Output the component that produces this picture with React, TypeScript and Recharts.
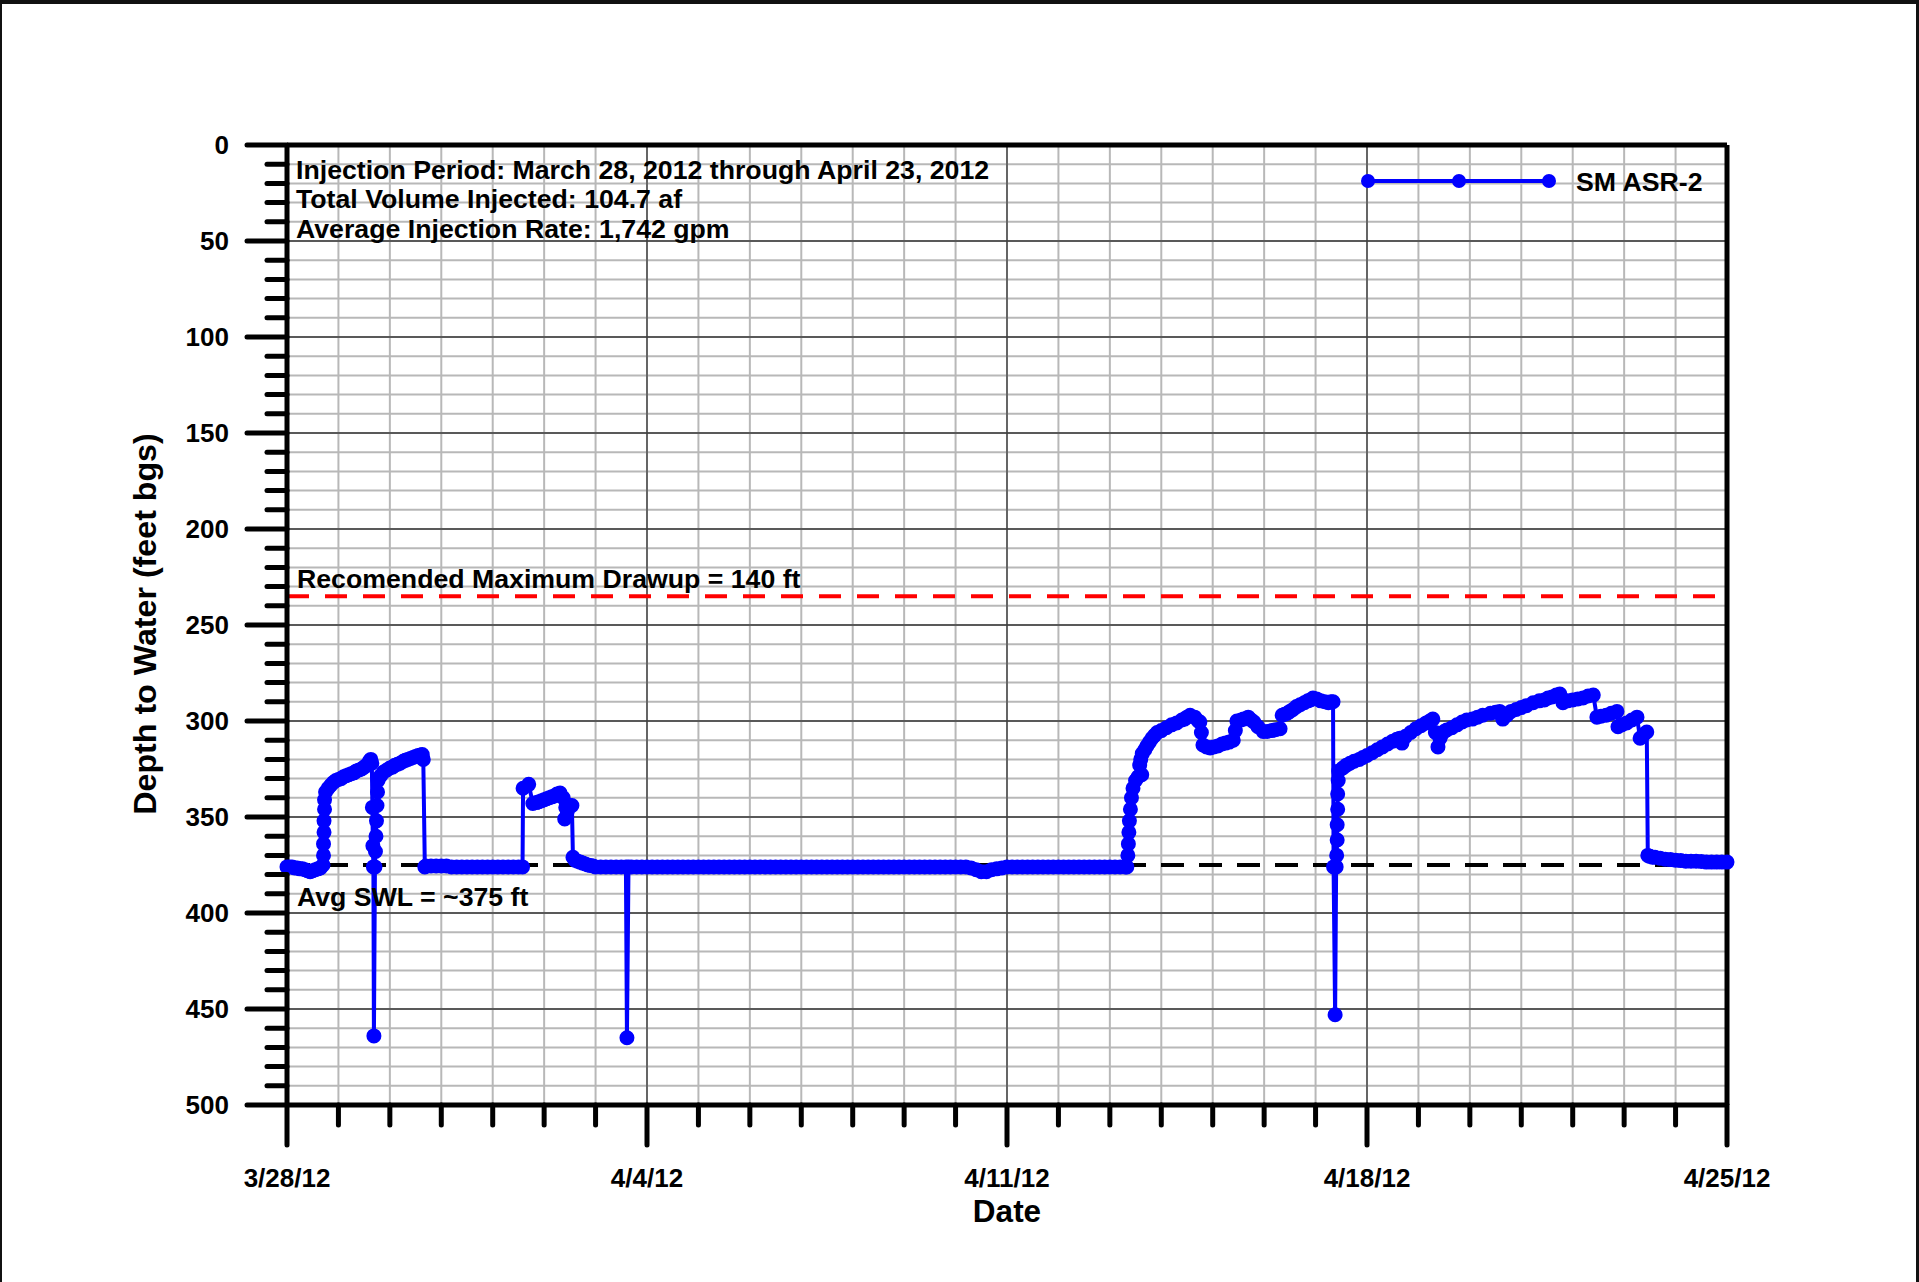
import React from 'react'
import {
    LineChart,
    Line,
    XAxis,
    YAxis,
    CartesianGrid,
    ReferenceLine
} from 'recharts'

// elapsed days since 3/28/12 00:00, depth to water in feet bgs
type Pt = [number, number]

const lateMarch: Pt[] = [
    [0, 376], [0.05, 376], [0.1, 376], [0.15, 376.5], [0.2, 376.5], [0.25, 377], [0.3, 377],
    [0.35, 377.5], [0.4, 378], [0.45, 378.5], [0.5, 378], [0.55, 377.5], [0.6, 377], [0.65, 376.5],
    [0.7, 375], [0.71, 370], [0.71, 364], [0.72, 358], [0.72, 352], [0.73, 346], [0.73, 341],
    [0.75, 337], [0.8, 335], [0.85, 333.5], [0.9, 332], [0.95, 331], [1.0, 330.5], [1.05, 330],
    [1.1, 329], [1.15, 328.5], [1.2, 328], [1.25, 327.5], [1.3, 327], [1.35, 326], [1.4, 325.5],
    [1.45, 325], [1.5, 324], [1.55, 323], [1.6, 321], [1.63, 320], [1.65, 322], [1.66, 345],
    [1.67, 365], [1.68, 376], [1.69, 464], [1.71, 376], [1.72, 368], [1.73, 360], [1.74, 352],
    [1.75, 344], [1.76, 337], [1.77, 331], [1.82, 328.5], [1.88, 326.5], [1.94, 325.5], [2.0, 324.5],
    [2.05, 324], [2.1, 323], [2.15, 322.5], [2.2, 322], [2.26, 321], [2.3, 320.5], [2.35, 320],
    [2.4, 319.5], [2.45, 319], [2.5, 318.5], [2.55, 318], [2.6, 317.7], [2.63, 317.5], [2.65, 320]
]

const earlyApril: Pt[] = [
    [2.68, 376], [2.7, 375.5], [2.8, 375.5], [2.9, 375.5], [3.0, 375.5], [3.1, 375.5], [3.2, 376],
    [3.3, 376], [3.4, 376], [3.5, 376], [3.6, 376], [3.7, 376], [3.8, 376], [3.9, 376], [4.0, 376],
    [4.1, 376], [4.2, 376], [4.3, 376], [4.4, 376], [4.5, 376], [4.58, 376], [4.59, 335], [4.7, 333],
    [4.78, 343], [4.85, 342.5], [4.9, 342], [4.95, 341.5], [5.0, 341], [5.05, 340.5], [5.1, 340],
    [5.15, 339.5], [5.2, 339], [5.25, 338], [5.31, 337.5], [5.37, 340], [5.42, 345], [5.4, 351],
    [5.45, 347], [5.5, 344], [5.54, 344], [5.56, 371], [5.6, 372.5], [5.65, 373], [5.7, 373.5],
    [5.75, 374], [5.8, 374.5], [5.85, 375], [5.9, 375.2], [5.95, 375.5], [6.0, 376], [6.1, 376],
    [6.2, 376], [6.3, 376], [6.4, 376], [6.5, 376], [6.59, 376], [6.61, 465], [6.64, 376]
]

const midApril: Pt[] = [
    [6.7, 376], [6.8, 376], [6.9, 376], [7.0, 376], [7.1, 376], [7.2, 376], [7.3, 376], [7.4, 376],
    [7.5, 376], [7.6, 376], [7.7, 376], [7.8, 376], [7.9, 376], [8.0, 376], [8.1, 376], [8.2, 376],
    [8.3, 376], [8.4, 376], [8.5, 376], [8.6, 376], [8.7, 376], [8.8, 376], [8.9, 376], [9.0, 376],
    [9.1, 376], [9.2, 376], [9.3, 376], [9.4, 376], [9.5, 376], [9.6, 376], [9.7, 376], [9.8, 376],
    [9.9, 376], [10.0, 376], [10.1, 376], [10.2, 376], [10.3, 376], [10.4, 376], [10.5, 376],
    [10.6, 376], [10.7, 376], [10.8, 376], [10.9, 376], [11.0, 376], [11.1, 376], [11.2, 376],
    [11.3, 376], [11.4, 376], [11.5, 376], [11.6, 376], [11.7, 376], [11.8, 376], [11.9, 376],
    [12.0, 376], [12.1, 376], [12.2, 376], [12.3, 376], [12.4, 376], [12.5, 376], [12.6, 376],
    [12.7, 376], [12.8, 376], [12.9, 376], [13.0, 376], [13.1, 376], [13.2, 376], [13.3, 376.5],
    [13.4, 377.5], [13.5, 378.5], [13.6, 378.5], [13.7, 377.5], [13.8, 377], [13.9, 376.5],
    [14.0, 376], [14.1, 376], [14.2, 376], [14.3, 376], [14.4, 376], [14.5, 376], [14.6, 376],
    [14.7, 376], [14.8, 376], [14.9, 376], [15.0, 376], [15.1, 376], [15.2, 376], [15.3, 376],
    [15.4, 376], [15.5, 376], [15.6, 376], [15.7, 376], [15.8, 376], [15.9, 376], [16.0, 376],
    [16.1, 376], [16.2, 376]
]

const injectionWeek3: Pt[] = [
    [16.3, 376], [16.33, 376], [16.35, 370], [16.36, 364], [16.37, 358], [16.38, 352], [16.4, 346],
    [16.42, 340], [16.45, 335], [16.5, 331], [16.55, 329], [16.62, 328], [16.58, 323], [16.6, 320],
    [16.63, 317], [16.68, 315], [16.72, 313], [16.77, 311], [16.82, 309], [16.87, 307.5],
    [16.92, 306], [17.0, 305], [17.1, 303.5], [17.2, 302], [17.3, 301], [17.4, 299.5], [17.45, 299],
    [17.5, 298], [17.56, 297], [17.65, 298], [17.72, 300], [17.75, 300.5], [17.78, 306],
    [17.81, 312.5], [17.88, 313.5], [17.95, 314], [18.02, 313.5], [18.1, 313], [18.18, 312],
    [18.25, 311.5], [18.32, 311], [18.4, 310], [18.44, 305], [18.47, 300], [18.55, 299.5],
    [18.6, 299], [18.69, 298], [18.75, 299.5], [18.8, 300.5], [18.88, 303], [18.98, 305.5],
    [19.06, 305.5], [19.15, 305], [19.22, 304.5], [19.31, 304], [19.35, 297], [19.4, 296.5],
    [19.45, 296], [19.5, 295], [19.56, 294], [19.63, 292.5], [19.7, 291.5], [19.78, 290.5],
    [19.85, 289.5], [19.9, 289], [19.95, 288], [20.02, 288.5], [20.1, 289.5], [20.18, 290],
    [20.25, 290.5], [20.3, 290], [20.34, 290]
]

const injectionWeek4: Pt[] = [
    [20.35, 376], [20.38, 453], [20.4, 376], [20.41, 370], [20.42, 362], [20.42, 354],
    [20.43, 346], [20.43, 338], [20.44, 331], [20.45, 326], [20.53, 324.5], [20.6, 323],
    [20.67, 322], [20.75, 321], [20.85, 320], [20.92, 319], [21.0, 318], [21.1, 316.5],
    [21.2, 315], [21.3, 313.5], [21.4, 312], [21.5, 310.5], [21.58, 309.5], [21.64, 309],
    [21.68, 311.5], [21.75, 308], [21.85, 306], [21.95, 304], [22.05, 302.5], [22.15, 301],
    [22.22, 300], [22.28, 299], [22.33, 306], [22.38, 313.5], [22.42, 309], [22.45, 307],
    [22.5, 305.5], [22.55, 304.7], [22.65, 303.5], [22.75, 302], [22.85, 300.5], [22.94, 299.5],
    [23.05, 299], [23.15, 298], [23.25, 297], [23.4, 296], [23.5, 295.5], [23.58, 295],
    [23.64, 299], [23.72, 297], [23.8, 295], [23.9, 294], [24.0, 293], [24.1, 292],
    [24.23, 290.5], [24.35, 289.5], [24.45, 289], [24.52, 288], [24.6, 287.5], [24.68, 286.5],
    [24.75, 286], [24.81, 290.5], [24.9, 289.5], [25.0, 289], [25.1, 288.5], [25.2, 288],
    [25.3, 287], [25.4, 286.5], [25.47, 298], [25.55, 297.5], [25.65, 297], [25.75, 296],
    [25.86, 295], [25.88, 303], [25.95, 302], [26.05, 301], [26.15, 299.5], [26.25, 298],
    [26.31, 309], [26.38, 307], [26.44, 305.7]
]

const recovery: Pt[] = [
    [26.46, 370], [26.5, 370.5], [26.55, 371], [26.6, 371], [26.7, 371.5], [26.8, 372],
    [26.9, 372.2], [27.0, 372.5], [27.1, 372.7], [27.2, 373], [27.3, 373], [27.4, 373],
    [27.5, 373.2], [27.6, 373.5], [27.7, 373.5], [27.8, 373.5], [27.9, 373.5], [28.0, 373.5]
]

const xLabels = ['3/28/12', '4/4/12', '4/11/12', '4/18/12', '4/25/12']
const xLabelDays = [0, 7, 14, 21, 28]
const yLabels = [0, 50, 100, 150, 200, 250, 300, 350, 400, 450, 500]

const maxDrawup = 235
const avgSwl = 375

const infoLines = [
    'Injection Period: March 28, 2012 through April 23, 2012',
    'Total Volume Injected: 104.7 af',
    'Average Injection Rate: 1,742 gpm'
]

const chartData = [...lateMarch, ...earlyApril, ...midApril, ...injectionWeek3, ...injectionWeek4, ...recovery]
    .map(([day, depth]) => ({ day, depth }))

// one tick per day, one per 10 ft
const dayTicks = Array.from({ length: 29 }, (_, i) => i)
const depthTicks = Array.from({ length: 51 }, (_, i) => i * 10)

const W = 1919
const H = 1282
const PLOT_LEFT = 287
const PLOT_TOP = 145
const PLOT_RIGHT = 1727
const PLOT_BOTTOM = 1105
const Y_AXIS_W = 120
const X_AXIS_H = 80
const FONT = '"Liberation Sans", Arial, Helvetica, sans-serif'
const BLUE = '#0000ff'
const NOTE_SIZE = 26.7

const YTick = (props: any) => {
    const { y, payload } = props
    const v = payload.value as number
    const major = yLabels.includes(v)
    const len = major ? 40 : 20
    return (
        <g>
            <line x1={PLOT_LEFT - len} x2={PLOT_LEFT} y1={y} y2={y} stroke="#000" strokeWidth={5} strokeLinecap="round" />
            {major && (
                <text x={PLOT_LEFT - 58} y={y} dy="0.36em" textAnchor="end" fontFamily={FONT} fontWeight="bold" fontSize={26} fill="#000">
                    {v}
                </text>
            )}
        </g>
    )
}

const XTick = (props: any) => {
    const { x, payload } = props
    const idx = xLabelDays.indexOf(payload.value)
    const major = idx >= 0
    const len = major ? 40 : 20
    return (
        <g>
            <line x1={x} x2={x} y1={PLOT_BOTTOM} y2={PLOT_BOTTOM + len} stroke="#000" strokeWidth={5} strokeLinecap="round" />
            {major && (
                <text x={x} y={1178} dy="0.36em" textAnchor="middle" fontFamily={FONT} fontWeight="bold" fontSize={26} fill="#000">
                    {xLabels[idx]}
                </text>
            )}
        </g>
    )
}

const lineLabel = (text: string, dy: number) => (props: any) => {
    const vb = props.viewBox || {}
    return (
        <text x={PLOT_LEFT + 10} y={vb.y + dy} dy="0.36em" fontFamily={FONT} fontWeight="bold" fontSize={NOTE_SIZE} fill="#000">
            {text}
        </text>
    )
}

export default function App() {
    return (
        <div style={{ position: 'absolute', left: 0, top: 0, width: W, height: H, background: '#fff', overflow: 'hidden' }}>
            <LineChart
                width={W}
                height={H}
                data={chartData}
                margin={{
                    top: PLOT_TOP,
                    right: W - PLOT_RIGHT,
                    bottom: H - PLOT_BOTTOM - X_AXIS_H,
                    left: PLOT_LEFT - Y_AXIS_W
                }}
            >
                <CartesianGrid stroke="#b8b8b8" strokeWidth={2} />
                {[50, 100, 150, 200, 250, 300, 350, 400, 450].map(v => (
                    <ReferenceLine key={'h' + v} y={v} stroke="#3a3a3a" strokeWidth={1.3} />
                ))}
                {[7, 14, 21].map(v => (
                    <ReferenceLine key={'v' + v} x={v} stroke="#3a3a3a" strokeWidth={1.3} />
                ))}
                <XAxis
                    type="number"
                    dataKey="day"
                    domain={[0, 28]}
                    ticks={dayTicks}
                    interval={0}
                    height={X_AXIS_H}
                    axisLine={{ stroke: '#000', strokeWidth: 5 }}
                    tickLine={false}
                    tick={<XTick />}
                    label={() => (
                        <text x={(PLOT_LEFT + PLOT_RIGHT) / 2} y={1211} dy="0.36em" textAnchor="middle" fontFamily={FONT} fontWeight="bold" fontSize={31.5} fill="#000">
                            Date
                        </text>
                    )}
                />
                <YAxis
                    type="number"
                    domain={[0, 500]}
                    reversed
                    ticks={depthTicks}
                    interval={0}
                    width={Y_AXIS_W}
                    axisLine={{ stroke: '#000', strokeWidth: 5 }}
                    tickLine={false}
                    tick={<YTick />}
                    label={() => (
                        <text x={144} y={624} dy="0.36em" textAnchor="middle" transform="rotate(-90 144 624)" fontFamily={FONT} fontWeight="bold" fontSize={32.2} fill="#000">
                            Depth to Water (feet bgs)
                        </text>
                    )}
                />
                <Line
                    type="linear"
                    dataKey="depth"
                    stroke={BLUE}
                    strokeWidth={4}
                    dot={{ r: 6.5, fill: BLUE, stroke: BLUE, strokeWidth: 2 }}
                    isAnimationActive={false}
                    name="SM ASR-2"
                />
                <ReferenceLine
                    y={maxDrawup}
                    stroke="#ff0000"
                    strokeWidth={4}
                    strokeDasharray="22 16"
                    label={lineLabel('Recomended Maximum Drawup = 140 ft', -18)}
                />
                <ReferenceLine
                    y={avgSwl}
                    stroke="#000"
                    strokeWidth={4}
                    strokeDasharray="23 15"
                    label={lineLabel('Avg SWL = ~375 ft', 31)}
                />
                <ReferenceLine y={0} stroke="#000" strokeWidth={5} />
                <ReferenceLine x={28} stroke="#000" strokeWidth={5} />
            </LineChart>

            <svg width={W} height={H} style={{ position: 'absolute', left: 0, top: 0, pointerEvents: 'none' }}>
                {infoLines.map((t, i) => (
                    <text key={t} x={296} y={169 + i * 29.5} dy="0.36em" fontFamily={FONT} fontWeight="bold" fontSize={NOTE_SIZE} fill="#000">
                        {t}
                    </text>
                ))}
                {/* legend */}
                <line x1={1368} x2={1549} y1={181} y2={181} stroke={BLUE} strokeWidth={4} />
                {[1368, 1459, 1549].map(cx => (
                    <circle key={cx} cx={cx} cy={181} r={7} fill={BLUE} />
                ))}
                <text x={1576} y={181} dy="0.36em" fontFamily={FONT} fontWeight="bold" fontSize={NOTE_SIZE} fill="#000">
                    SM ASR-2
                </text>
            </svg>

            <div
                style={{
                    position: 'absolute',
                    left: 0,
                    top: 0,
                    width: W,
                    height: H,
                    boxSizing: 'border-box',
                    borderTop: '4px solid #111',
                    borderLeft: '2px solid #111',
                    borderRight: '3px solid #111',
                    pointerEvents: 'none'
                }}
            />
        </div>
    )
}
